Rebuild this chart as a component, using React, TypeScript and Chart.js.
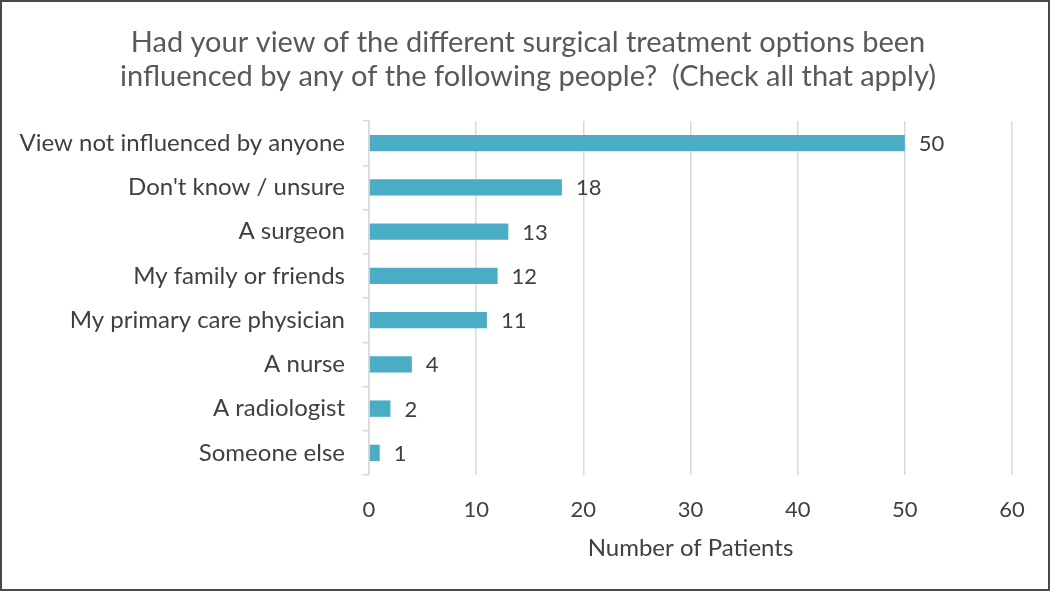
import React, { useEffect, useRef } from "react";
import { Chart, registerables } from "chart.js";

Chart.register(...registerables);

const categories = [
  "View not influenced by anyone",
  "Don't know / unsure",
  "A surgeon",
  "My family or friends",
  "My primary care physician",
  "A nurse",
  "A radiologist",
  "Someone else",
];
const patients = [50, 18, 13, 12, 11, 4, 2, 1];
const titleLines = [
  "Had your view of the different surgical treatment options been",
  "influenced by any of the following people?  (Check all that apply)",
];
const xAxisTitle = "Number of Patients";
const xMin = 0;
const xMax = 60;
const xStep = 10;

const FONT = "Lato, 'Open Sans', sans-serif";
const TEXT = "#404040";

const valueLabels = {
  id: "valueLabels",
  afterDatasetsDraw(chart: any) {
    const ctx = chart.ctx;
    const meta = chart.getDatasetMeta(0);
    ctx.save();
    ctx.font = `22px ${FONT}`;
    ctx.fillStyle = TEXT;
    ctx.textAlign = "left";
    ctx.textBaseline = "middle";
    meta.data.forEach((bar: any, i: number) => {
      const v = chart.data.datasets[0].data[i];
      ctx.fillText(String(v), bar.x + 14, bar.y + 1);
    });
    ctx.restore();
  },
};

const centeredTitle = {
  id: "centeredTitle",
  afterDraw(chart: any) {
    const ctx = chart.ctx;
    ctx.save();
    ctx.font = `29px ${FONT}`;
    ctx.fillStyle = "#595959";
    ctx.textAlign = "center";
    ctx.textBaseline = "middle";
    titleLines.forEach((line, i) => {
      ctx.fillText(line, chart.width / 2 + 3, 41 + i * 34);
    });
    ctx.restore();
  },
};

export default function App() {
  const ref = useRef<HTMLCanvasElement | null>(null);
  useEffect(() => {
    if (!ref.current) return;
    const chart = new Chart(ref.current, {
      type: "bar",
      data: {
        labels: categories,
        datasets: [
          {
            data: patients,
            backgroundColor: "#4bacc6",
            borderWidth: 0,
            barPercentage: 0.37,
            categoryPercentage: 1,
          },
        ],
      },
      options: {
        indexAxis: "y",
        animation: false,
        responsive: false,
        maintainAspectRatio: false,
        layout: { padding: { left: 0, right: 36, top: 119, bottom: 0 } },
        plugins: {
          legend: { display: false },
          tooltip: { enabled: false },
          title: { display: false },
        },
        scales: {
          x: {
            min: xMin,
            max: xMax,
            ticks: {
              stepSize: xStep,
              color: TEXT,
              font: { family: FONT, size: 22 },
              padding: 22,
            },
            grid: { color: "#d9d9d9", lineWidth: 1.5, drawTicks: false },
            border: { display: false },
            title: {
              display: true,
              text: xAxisTitle,
              color: TEXT,
              font: { family: FONT, size: 24 },
              padding: { top: 0, bottom: 26 },
            },
            afterFit(scale: any) {
              scale.height = 114;
            },
          },
          y: {
            ticks: {
              color: TEXT,
              font: { family: FONT, size: 24 },
              padding: 18,
            },
            grid: {
              offset: true,
              drawOnChartArea: false,
              drawTicks: true,
              tickLength: 6,
              color: "#d9d9d9",
              lineWidth: 1.5,
            },
            border: { display: true, color: "#d9d9d9", width: 1.5 },
            afterFit(scale: any) {
              scale.width = 367;
            },
          },
        },
      },
      plugins: [valueLabels, centeredTitle],
    });
    return () => chart.destroy();
  }, []);

  return (
    <div
      style={{
        position: "fixed",
        left: 0,
        top: 0,
        width: 1050,
        height: 591,
        boxSizing: "border-box",
        border: "2px solid #4a4a4a",
        background: "#fff",
      }}
    >
      <canvas ref={ref} width={1046} height={587} style={{ display: "block" }} />
    </div>
  );
}
